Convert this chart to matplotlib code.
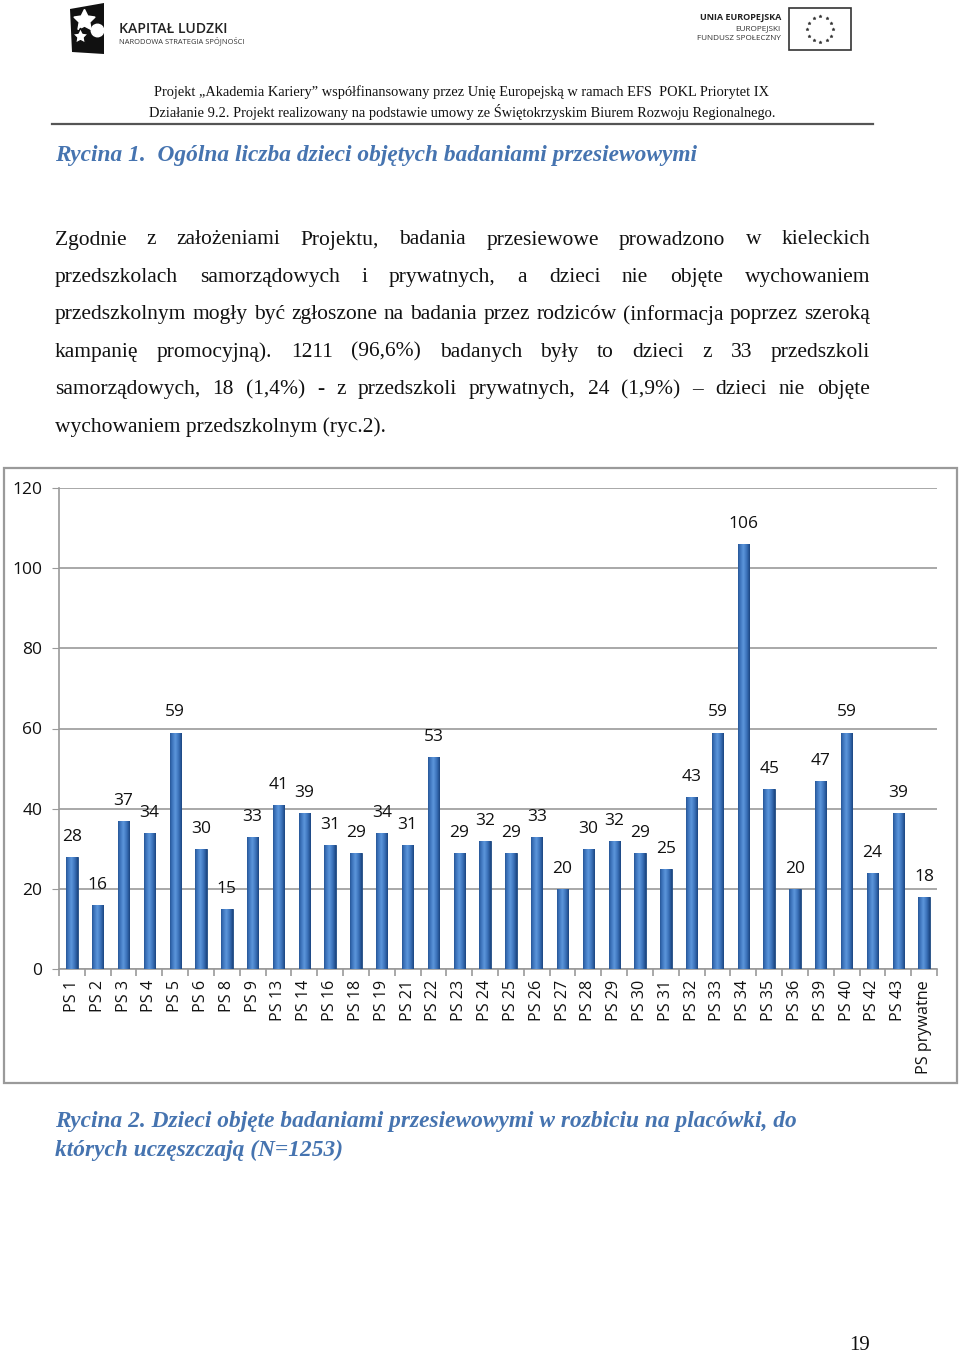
import matplotlib
matplotlib.use("Agg")
import matplotlib.pyplot as plt
import numpy as np
from matplotlib.patches import Rectangle, Polygon
from matplotlib.lines import Line2D
from matplotlib.colors import LinearSegmentedColormap

# ---------------- data ----------------
categories = ["PS 1", "PS 2", "PS 3", "PS 4", "PS 5", "PS 6", "PS 8", "PS 9",
              "PS 13", "PS 14", "PS 16", "PS 18", "PS 19", "PS 21", "PS 22",
              "PS 23", "PS 24", "PS 25", "PS 26", "PS 27", "PS 28", "PS 29",
              "PS 30", "PS 31", "PS 32", "PS 33", "PS 34", "PS 35", "PS 36",
              "PS 39", "PS 40", "PS 42", "PS 43", "PS prywatne"]
values = [28, 16, 37, 34, 59, 30, 15, 33, 41, 39, 31, 29, 34, 31, 53,
          29, 32, 29, 33, 20, 30, 32, 29, 25, 43, 59, 106, 45, 20,
          47, 59, 24, 39, 18]
y_ticks = [0, 20, 40, 60, 80, 100, 120]

header_lines = ["Projekt \u201eAkademia Kariery\u201d współfinansowany przez Unię Europejską w ramach EFS  POKL Priorytet IX",
                "Działanie 9.2. Projekt realizowany na podstawie umowy ze Świętokrzyskim Biurem Rozwoju Regionalnego."]
title1 = "Rycina 1.  Ogólna liczba dzieci objętych badaniami przesiewowymi"
paragraph = [
    "Zgodnie z założeniami Projektu, badania przesiewowe prowadzono w kieleckich",
    "przedszkolach samorządowych i prywatnych, a dzieci nie objęte wychowaniem",
    "przedszkolnym  mogły być zgłoszone na badania przez rodziców (informacja poprzez szeroką",
    "kampanię promocyjną). 1211 (96,6%) badanych były to dzieci z 33 przedszkoli",
    "samorządowych, 18 (1,4%) -  z przedszkoli prywatnych, 24 (1,9%) \u2013 dzieci nie objęte",
    "wychowaniem przedszkolnym (ryc.2).",
]
caption2 = ["Rycina 2. Dzieci objęte badaniami przesiewowymi w rozbiciu na placówki, do",
            "których uczęszczają (N=1253)"]

W, H = 960, 1354
fig = plt.figure(figsize=(W / 100, H / 100), dpi=100)
fig.patch.set_facecolor("white")


def P(x, y):
    return (x / W, 1 - y / H)


renderer = fig.canvas.get_renderer()


def width_px(t):
    return t.get_window_extent(renderer=renderer).width


def fit(t, target):
    w = width_px(t)
    t.set_fontsize(t.get_fontsize() * target / w)


BLUE_T = "#4674B0"

# ---------------- header logos ----------------
fig.patches.append(Polygon([P(70, 9), P(104, 3), P(104, 54), P(72, 52)], closed=True,
                           transform=fig.transFigure, facecolor="#111111", edgecolor="none"))
fig.add_artist(Line2D([P(84, 20)[0]], [P(84, 20)[1]], marker=(5, 1, 0), markersize=16,
                      color="white", transform=fig.transFigure))
fig.add_artist(Line2D([P(97, 30)[0]], [P(97, 30)[1]], marker="o", markersize=9,
                      color="white", transform=fig.transFigure))
fig.add_artist(Line2D([P(80, 36)[0]], [P(80, 36)[1]], marker=(5, 1, 0), markersize=12,
                      markerfacecolor="white", markeredgecolor="#111111", transform=fig.transFigure))
t = fig.text(*P(119, 29), "KAPITAŁ LUDZKI", fontsize=10, family="Open Sans",
             fontweight="semibold", color="#222222", va="center", ha="left")
fit(t, 108)
t = fig.text(*P(119, 41), "NARODOWA STRATEGIA SPÓJNOŚCI", fontsize=5, family="Open Sans",
             color="#333333", va="center", ha="left")
fit(t, 124)

t = fig.text(*P(781, 18), "UNIA EUROPEJSKA", fontsize=6.5, family="Open Sans",
             fontweight="bold", color="#222222", va="center", ha="right")
fit(t, 81)
t = fig.text(*P(781, 29), "EUROPEJSKI", fontsize=5.5, family="Open Sans",
             color="#333333", va="center", ha="right")
fit(t, 46)
t = fig.text(*P(781, 39), "FUNDUSZ SPOŁECZNY", fontsize=5.5, family="Open Sans",
             color="#333333", va="center", ha="right")
fit(t, 84)
fig.patches.append(Rectangle(P(789, 50), 62 / W, 42 / H, transform=fig.transFigure,
                             facecolor="white", edgecolor="#333333", linewidth=1.2))
cx, cy = 820, 29
for k in range(12):
    a = 2 * np.pi * k / 12
    xs, ys = P(cx + 13 * np.cos(a), cy + 13 * np.sin(a))
    fig.add_artist(Line2D([xs], [ys], marker=(5, 1, 0), markersize=2.4, color="#333333",
                          markeredgewidth=0.3, transform=fig.transFigure))

for i, line in enumerate(header_lines):
    t = fig.text(*P(462, 92 + 20 * i), line, family="Liberation Serif", fontsize=11,
                 color="#111111", ha="center", va="center")
    fit(t, 616 if i == 0 else 628)
fig.add_artist(Line2D([52 / W, 873 / W], [1 - 124 / H, 1 - 124 / H], color="#555555",
                      linewidth=1.6, transform=fig.transFigure))

# ---------------- title 1 ----------------
t = fig.text(*P(55, 156), title1, family="Liberation Serif", fontstyle="italic",
             fontweight="bold", fontsize=15, color=BLUE_T, ha="left", va="center")
fit(t, 642)

# ---------------- justified paragraph ----------------
x0, x1 = 55, 870
for i, line in enumerate(paragraph):
    y = 240 + 37.4 * i
    words = line.split()
    last = (i == len(paragraph) - 1)
    if last:
        fig.text(*P(x0, y), line, family="Liberation Serif", fontsize=15.5,
                 color="#111111", ha="left", va="center")
        continue
    arts = [fig.text(*P(x0, y), w_, family="Liberation Serif", fontsize=15.5,
                     color="#111111", ha="left", va="center") for w_ in words]
    widths = [width_px(a) for a in arts]
    gap = ((x1 - x0) - sum(widths)) / (len(words) - 1)
    xx = x0
    for a, wd in zip(arts, widths):
        a.set_position(P(xx, y))
        xx += wd + gap

# ---------------- chart box ----------------
fig.patches.append(Rectangle(P(4, 1083), 953 / W, 615 / H, transform=fig.transFigure,
                             facecolor="none", edgecolor="#9a9a9a", linewidth=1.6))

ax = fig.add_axes([59 / W, 1 - 969 / H, (937 - 59) / W, (969 - 488) / H])
ax.set_facecolor("none")
n = len(categories)
x = np.arange(n)
bars = ax.bar(x, values, width=0.44, color="#3A6DB0", edgecolor="#1F4A80",
              linewidth=0.6, zorder=3)

grad = np.linspace(0, 1, 64)
prof = np.clip(1 - np.abs(grad - 0.45) * 2, 0, 1) ** 0.8
cmap = LinearSegmentedColormap.from_list("bar", ["#1E4A86", "#3A70B8", "#5B95DA"])
for b in bars:
    bx, bw, bh = b.get_x(), b.get_width(), b.get_height()
    im = ax.imshow(prof[np.newaxis, :], cmap=cmap, aspect="auto",
                   extent=[bx, bx + bw, 0, bh], zorder=3.5, interpolation="bilinear")
    im.set_clip_path(b)
    ax.text(bx + bw / 2, bh + 3.0, str(int(bh)), ha="center", va="bottom",
            fontsize=12.5, family="Open Sans", color="#111111", zorder=5)

ax.set_xlim(-0.5, n - 0.5)
ax.set_ylim(0, 120)
ax.set_yticks(y_ticks)
ax.set_yticklabels([str(v) for v in y_ticks], family="Open Sans", fontsize=12.5)
ax.yaxis.grid(True, color="#9a9a9a", linewidth=1.2, zorder=0)
ax.set_axisbelow(True)
for s in ["top", "right"]:
    ax.spines[s].set_visible(False)
for s in ["left", "bottom"]:
    ax.spines[s].set_color("#9a9a9a")
    ax.spines[s].set_linewidth(1.2)
ax.tick_params(axis="y", length=5, color="#9a9a9a", pad=7, labelcolor="#111111")
ax.set_xticks(x)
ax.set_xticklabels(categories, rotation=90, family="Open Sans", fontsize=11.6, color="#111111")
ax.tick_params(axis="x", length=0, pad=8)
ax.set_xticks(np.arange(-0.5, n, 1.0), minor=True)
ax.tick_params(axis="x", which="minor", length=5, color="#9a9a9a", width=1.2)

# ---------------- caption ----------------
t = fig.text(*P(55, 1121), caption2[0], family="Liberation Serif", fontstyle="italic",
             fontweight="bold", fontsize=15, color=BLUE_T, ha="left", va="center")
s = 742 / width_px(t)
t.set_fontsize(15 * s)
fig.text(*P(55, 1150), caption2[1], family="Liberation Serif", fontstyle="italic",
         fontweight="bold", fontsize=15 * s, color=BLUE_T, ha="left", va="center")

fig.text(*P(860, 1345), "19", family="Liberation Serif", fontsize=15, color="#111111",
         ha="center", va="center")

fig.savefig("out.png", dpi=100, facecolor="white")
